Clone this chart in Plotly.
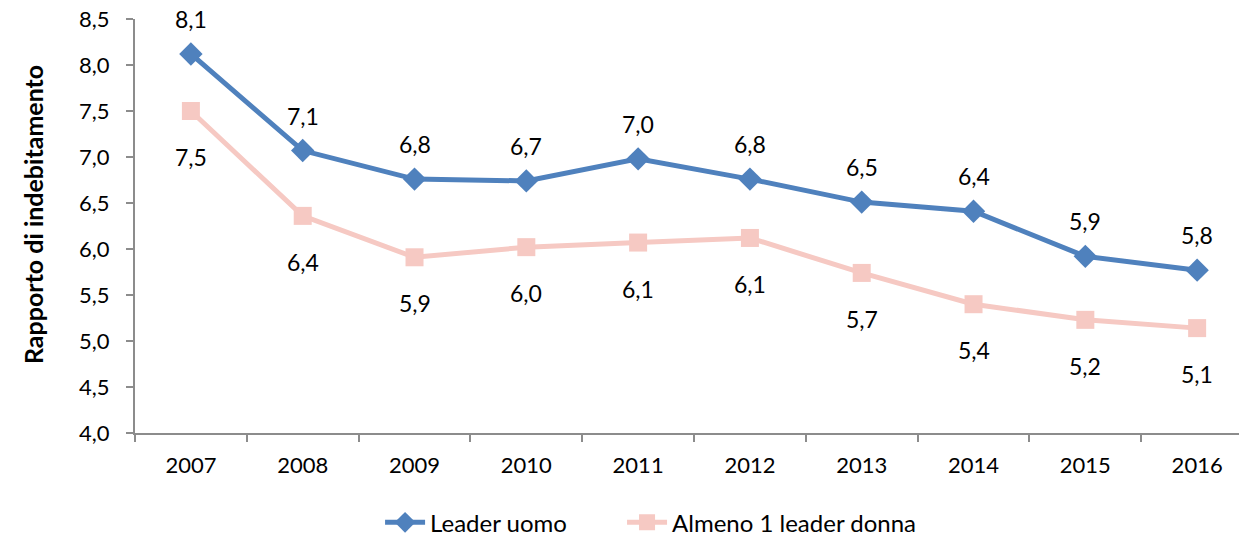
import plotly.graph_objects as go

years = ["2007", "2008", "2009", "2010", "2011", "2012", "2013", "2014", "2015", "2016"]
leader_uomo = [8.12, 7.07, 6.76, 6.74, 6.98, 6.76, 6.51, 6.41, 5.92, 5.77]
almeno_donna = [7.50, 6.36, 5.91, 6.02, 6.07, 6.12, 5.74, 5.40, 5.23, 5.14]
y_ticks = [4.0, 4.5, 5.0, 5.5, 6.0, 6.5, 7.0, 7.5, 8.0, 8.5]
y_title = "Rapporto di indebitamento"

BLUE = "#4F81BD"
PINK = "#F6C9C3"
FONT = "Lato"
FS = 22

def fmt(v):
    return f"{v:.1f}".replace(".", ",")

fig = go.Figure()
fig.add_trace(go.Scatter(
    x=years, y=leader_uomo, name="Leader uomo", mode="lines+markers",
    line=dict(color=BLUE, width=5),
    marker=dict(symbol="diamond", size=18, color=BLUE),
    legend="legend",
))
fig.add_trace(go.Scatter(
    x=years, y=almeno_donna, name="Almeno 1 leader donna", mode="lines+markers",
    line=dict(color=PINK, width=5),
    marker=dict(symbol="square", size=18, color=PINK),
    legend="legend2",
))

anns = []
for i, v in enumerate(leader_uomo):
    anns.append(dict(x=i, y=v, xref="x", yref="y", text=fmt(v), showarrow=False,
                     yshift=35, borderpad=0,
                     font=dict(family=FONT, size=23, color="#000")))
for i, v in enumerate(almeno_donna):
    anns.append(dict(x=i, y=v, xref="x", yref="y", text=fmt(v), showarrow=False,
                     yshift=-46, borderpad=0,
                     font=dict(family=FONT, size=23, color="#000")))
anns.append(dict(x=-0.0917, y=0.5266, xref="paper", yref="paper",
                 text=f"<b>{y_title}</b>", textangle=-90, showarrow=False,
                 xanchor="center", yanchor="middle",
                 font=dict(family=FONT, size=25, color="#000")))

legend_common = dict(orientation="h", xref="container", yref="container",
                     xanchor="left", y=0.027, yanchor="middle",
                     font=dict(family=FONT, size=24), itemwidth=40)

# The page body has an 8px default margin; the figure is sized to compensate.
fig.update_layout(
    width=1239, height=529,
    margin=dict(l=127, r=0, t=11, b=104, autoexpand=False),
    paper_bgcolor="white", plot_bgcolor="white",
    separators=",.",
    font=dict(family=FONT, size=FS, color="#000"),
    annotations=anns,
    showlegend=True,
    legend=dict(x=0.3003, **legend_common),
    legend2=dict(x=0.4956, **legend_common),
    xaxis=dict(type="category", range=[-0.5, 9.446], showline=True,
               linecolor="#8c8c8c", linewidth=2, ticks="outside",
               tickson="boundaries", ticklen=7, tickcolor="#8c8c8c",
               tickwidth=2, showgrid=False, zeroline=False,
               ticklabelstandoff=12),
    yaxis=dict(range=[4.0, 8.5], tickvals=y_ticks, tickformat=".1f",
               showline=True, linecolor="#8c8c8c", linewidth=2,
               ticks="outside", ticklen=7, tickcolor="#8c8c8c", tickwidth=2,
               showgrid=False, zeroline=False, ticklabelstandoff=12,
               ticklabeloverflow="allow"),
)

fig.write_html("out.html")
